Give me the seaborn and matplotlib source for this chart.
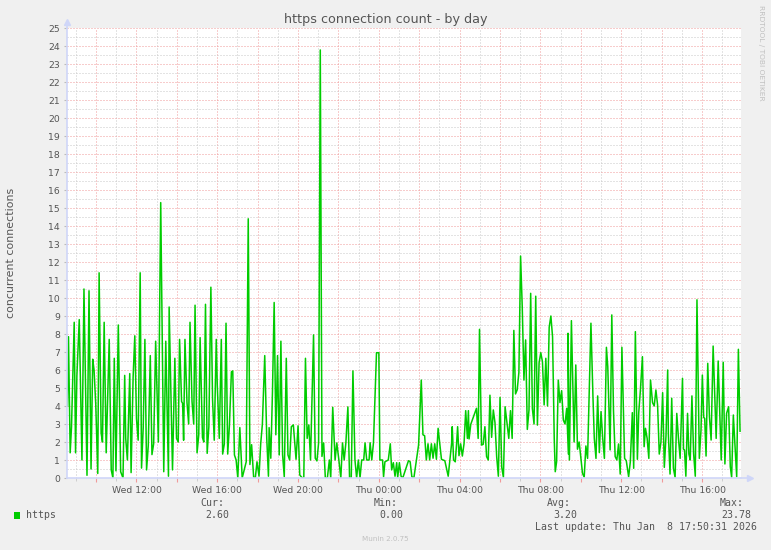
import numpy as np
import matplotlib
matplotlib.use("Agg")
import matplotlib.pyplot as plt
import seaborn as sns
from matplotlib.ticker import MultipleLocator, FixedLocator, FixedFormatter
from matplotlib.patches import Rectangle

# Each block: start time (minutes after Wed 00:00), offsets in minutes, values.
start_a = 505
offs_a = [10, 13, 18, 22, 30, 34, 38, 45, 53, 59, 68, 74, 80, 85, 89, 94, 100, 104, 110, 114,
          119, 125, 134, 140, 145, 149, 154, 161, 168, 175, 180, 183, 188, 195, 199, 205, 210, 215, 220, 226,
          230, 235, 240, 245, 250, 256, 261, 266, 272, 280, 287, 296, 302, 310]
vals_a = [4.0, 7.85, 1.4, 2.85, 8.65, 1.4, 5.7, 8.8, 1.0, 10.5, 0.15, 10.4, 0.5, 6.6, 6.0, 4.1, 0.25, 11.4, 2.5, 2.0,
          8.65, 1.4, 7.7, 0.45, 0.0, 6.65, 0.4, 8.5, 0.35, 0.0, 5.7, 2.2, 1.0, 5.8, 0.3, 5.6, 7.9, 3.3, 2.1, 11.4,
          0.55, 2.8, 7.7, 0.45, 1.8, 6.8, 1.3, 1.9, 7.6, 2.0, 15.3, 0.35, 7.6, 0.1]

start_b = 802
offs_b = [15, 25, 32, 37, 42, 46, 52, 55, 58, 62, 68, 73, 77, 83, 88, 92, 98, 103, 107, 114,
          118, 123, 128, 133, 139, 144, 149, 155, 158, 164, 170, 174, 179, 184, 189, 194, 200, 204, 209, 214,
          219, 225, 232, 244, 250, 255, 260, 266, 271, 276, 282, 287, 292, 299, 305, 310]
vals_b = [9.5, 0.45, 6.65, 2.2, 2.0, 7.7, 4.25, 4.15, 2.1, 7.7, 4.2, 3.0, 8.65, 4.25, 3.0, 9.6, 1.4, 2.4, 7.8, 2.25,
          2.0, 9.65, 1.37, 2.85, 10.6, 4.35, 2.1, 7.7, 5.15, 2.2, 7.7, 1.33, 1.9, 8.6, 1.33, 2.9, 5.9, 5.95, 1.28, 1.0,
          0.0, 2.8, 0.0, 0.9, 14.4, 0.75, 1.85, 0.05, 0.0, 0.9, 0.1, 1.9, 3.0, 6.8, 2.2, 0.1]

start_c = 1099
offs_c = [15, 20, 25, 30, 35, 40, 45, 50, 55, 60, 66, 71, 76, 81, 87, 95, 101, 106, 112, 118,
          123, 128, 133, 138, 147, 152, 157, 162, 167, 172, 177, 182, 188, 194, 198, 204, 211, 216, 222, 228,
          233, 238, 243, 249, 254, 259, 264, 270, 275, 280, 285, 290, 296, 300, 305, 310]
vals_c = [2.8, 1.1, 4.8, 9.75, 2.4, 6.8, 1.28, 7.6, 1.3, 0.07, 6.65, 1.28, 1.0, 2.85, 2.95, 1.04, 2.9, 0.17, 0.03, 0.0,
          6.65, 2.2, 2.95, 1.0, 7.95, 1.1, 0.95, 1.95, 23.78, 1.2, 1.95, 0.0, 0.0, 1.0, 0.0, 3.93, 1.0, 1.95, 1.04, 0.0,
          1.95, 1.0, 1.95, 3.95, 0.0, 0.0, 5.95, 1.0, 0.0, 1.0, 0.0, 1.0, 1.0, 1.95, 1.0, 1.0]

start_d = 1396
offs_d = [15, 18, 23, 28, 37, 44, 47, 55, 58, 62, 72, 78, 82, 87, 92, 97, 100, 105, 110, 115, 132,
          137, 142, 148, 162, 170, 175, 180, 185, 190, 195, 200, 205, 210, 215, 220, 225, 230, 240, 250, 255,
          260, 262, 266, 271, 275, 278, 282, 287, 292, 297, 302, 307, 310]
vals_d = [1.0, 1.96, 1.0, 1.96, 6.96, 6.96, 1.0, 1.0, 0.07, 0.9, 1.0, 1.9, 0.45, 0.85, 0.1, 0.85, 0.04, 0.85, 0.1, 0.0, 0.96,
          0.9, 0.07, 0.0, 1.83, 5.44, 2.4, 2.35, 1.0, 1.9, 1.0, 1.9, 1.1, 1.9, 1.04, 2.76, 1.9, 1.04, 0.96, 0.1, 1.0,
          1.9, 2.85, 1.0, 0.9, 1.93, 2.85, 1.24, 1.9, 1.22, 1.9, 3.74, 2.2, 3.74]

start_e = 1693
offs_e = [15, 20, 37, 42, 46, 52, 57, 62, 67, 72, 77, 82, 87, 92, 97, 102, 107, 112, 117, 122,
          133, 138, 143, 148, 153, 158, 163, 168, 173, 178, 183, 188, 193, 198, 203, 208, 213, 218, 223, 228,
          233, 238, 243, 248, 253, 258, 263, 268, 271, 275, 280, 285, 290, 295, 300, 305, 310]
vals_e = [2.17, 2.98, 3.87, 2.2, 8.26, 1.83, 1.87, 2.85, 1.19, 1.0, 4.6, 2.26, 3.78, 3.07, 1.19, 0.1, 4.48, 0.6, 0.04, 3.96,
          2.2, 3.74, 2.2, 8.2, 4.67, 4.9, 5.87, 12.33, 9.48, 5.44, 7.67, 2.7, 3.78, 10.26, 3.87, 3.0, 10.1, 2.94, 6.4, 6.96,
          6.46, 4.06, 6.65, 4.0, 8.37, 9.0, 7.85, 2.2, 0.35, 0.9, 5.44, 4.19, 4.85, 3.22, 3.0, 3.87, 1.33]

start_f = 1990
offs_f = [12, 16, 22, 30, 35, 40, 45, 55, 60, 65, 70, 80, 86, 90, 95, 100, 105, 110, 115, 120,
          126, 130, 137, 142, 147, 152, 157, 162, 167, 172, 180, 185, 192, 197, 203, 207, 212, 218, 222, 227,
          233, 238, 242, 247, 252, 257, 263, 268, 273, 278, 283, 288, 293, 298, 303, 308]
vals_f = [8.04, 1.0, 8.74, 2.0, 6.28, 1.6, 2.0, 0.26, 0.04, 1.78, 1.09, 8.6, 4.52, 2.2, 1.09, 4.56, 1.41, 3.69, 2.2, 1.09,
          7.26, 6.19, 1.56, 9.06, 3.74, 1.19, 1.0, 1.89, 0.22, 7.26, 1.09, 0.96, 0.07, 0.9, 3.63, 0.54, 8.13, 1.04, 3.63, 4.89,
          6.74, 1.74, 2.76, 2.2, 1.09, 5.44, 4.19, 4.0, 4.89, 4.06, 1.33, 2.0, 4.74, 0.59, 2.33, 6.0]

start_g = 2275
offs_g = [25, 30, 35, 40, 45, 50, 55, 60, 67, 70, 73, 77, 82, 86, 90, 95, 100, 105, 110, 117,
          122, 126, 130, 133, 137, 142, 147, 152, 158, 167, 173, 182, 188, 193, 198, 204, 209, 213, 218, 228,
          233, 238]
vals_g = [2.44, 0.22, 4.43, 0.54, 0.04, 3.59, 2.2, 1.09, 5.54, 1.59, 1.56, 0.1, 3.59, 1.33, 1.0, 4.56, 1.37, 0.1, 9.9, 1.09,
          2.67, 5.72, 3.37, 3.31, 1.22, 6.37, 3.41, 2.11, 7.33, 2.2, 6.5, 1.0, 6.43, 0.78, 3.59, 3.96, 0.63, 0.04, 3.5, 0.07,
          7.15, 2.6]

tick_hours = [12, 16, 20, 24, 28, 32, 36, 40]
tick_labels = ["Wed 12:00", "Wed 16:00", "Wed 20:00", "Thu 00:00",
               "Thu 04:00", "Thu 08:00", "Thu 12:00", "Thu 16:00"]
stat_names = ["Cur:", "Min:", "Avg:", "Max:"]
stat_values = ["2.60", "0.00", "3.20", "23.78"]

blocks = [(start_a, offs_a, vals_a), (start_b, offs_b, vals_b), (start_c, offs_c, vals_c),
          (start_d, offs_d, vals_d), (start_e, offs_e, vals_e), (start_f, offs_f, vals_f),
          (start_g, offs_g, vals_g)]
hours = np.concatenate([(s + np.array(o)) / 60.0 for s, o, v in blocks])
conns = np.concatenate([np.array(v) for s, o, v in blocks])

W, H = 771, 550
GREEN = "#00cc00"
FONT_C = "#555555"
AXIS_C = "#cfd6f8"
MGRID = "#f09a9a"
GRID = "#c8c8c8"


def px(x, y):
    return x / W, 1 - y / H


fig = plt.figure(figsize=(W / 100, H / 100), dpi=100, facecolor="#f0f0f0")
ax = fig.add_axes([67 / W, 1 - 478 / H, 674 / W, 450 / H])
ax.set_facecolor("white")

sns.lineplot(x=hours, y=conns, ax=ax, color=GREEN, linewidth=1.1,
             estimator=None, sort=False)

ax.set_xlim(8.56, 41.93)
ax.set_ylim(0, 25)

# grid: red major, grey minor, both dotted
major_x = list(range(10, 42, 2))
ax.xaxis.set_major_locator(FixedLocator(major_x))
ax.xaxis.set_major_formatter(FixedFormatter(
    [tick_labels[tick_hours.index(h)] if h in tick_hours else "" for h in major_x]))
ax.xaxis.set_minor_locator(MultipleLocator(1))
ax.yaxis.set_major_locator(MultipleLocator(1))
ax.yaxis.set_minor_locator(MultipleLocator(0.5))
ax.grid(which="major", color=MGRID, linestyle=(0, (1, 2)), linewidth=0.72)
ax.grid(which="minor", color=GRID, linestyle=(0, (1, 2)), linewidth=0.72)
ax.set_axisbelow(True)

ax.tick_params(axis="both", which="both", labelsize=6.7, labelcolor=FONT_C)
ax.tick_params(axis="x", which="major", length=3, color=MGRID, pad=3)
ax.tick_params(axis="x", which="minor", length=2, color=GRID)
ax.tick_params(axis="y", which="major", length=2.5, color="#bbbbbb", pad=2.5)
ax.tick_params(axis="y", which="minor", length=0)

for side in ["top", "right"]:
    ax.spines[side].set_visible(False)
for side in ["left", "bottom"]:
    ax.spines[side].set_color(AXIS_C)
    ax.spines[side].set_linewidth(1.2)

# axis arrows
ax.plot([1, 1.014], [0, 0], transform=ax.transAxes, color=AXIS_C, lw=1.2, clip_on=False)
ax.plot([1.014], [0], transform=ax.transAxes, marker=">", ms=4, color=AXIS_C, clip_on=False)
ax.plot([0, 0], [1, 1.013], transform=ax.transAxes, color=AXIS_C, lw=1.2, clip_on=False)
ax.plot([0], [1.013], transform=ax.transAxes, marker="^", ms=4, color=AXIS_C, clip_on=False)

ax.set_xlabel("")
ax.set_ylabel("")
fig.text(*px(385.5, 19), "https connection count - by day", ha="center", va="center",
         fontsize=9.2, color=FONT_C)
fig.text(*px(11, 253), "concurrent connections", ha="center", va="center",
         rotation=90, fontsize=7.9, color=FONT_C)
fig.text(*px(761, 5), "RRDTOOL / TOBI OETIKER", ha="center", va="top",
         rotation=270, fontsize=5.4, color="#c0c0c0")

# legend block
mono = dict(family="DejaVu Sans Mono", fontsize=7.1, color=FONT_C, va="center", ha="left")
fig.add_artist(Rectangle(px(14, 519), 6 / W, 7 / H, transform=fig.transFigure,
                         color=GREEN, lw=0))
fig.text(*px(26, 515), "https", **mono)
name_x = [200, 373.5, 547, 720]
val_x = [205.5, 379.5, 553, 721]
for nm, vv, nx, vx in zip(stat_names, stat_values, name_x, val_x):
    fig.text(*px(nx, 503), nm, **mono)
    fig.text(*px(vx, 515), vv, **mono)
fig.text(*px(535, 527), "Last update: Thu Jan  8 17:50:31 2026", **mono)
fig.text(*px(385, 539), "Munin 2.0.75", ha="center", va="center", fontsize=5.1, color="#c0c0c0")

fig.savefig("out.png", dpi=100, facecolor=fig.get_facecolor())
